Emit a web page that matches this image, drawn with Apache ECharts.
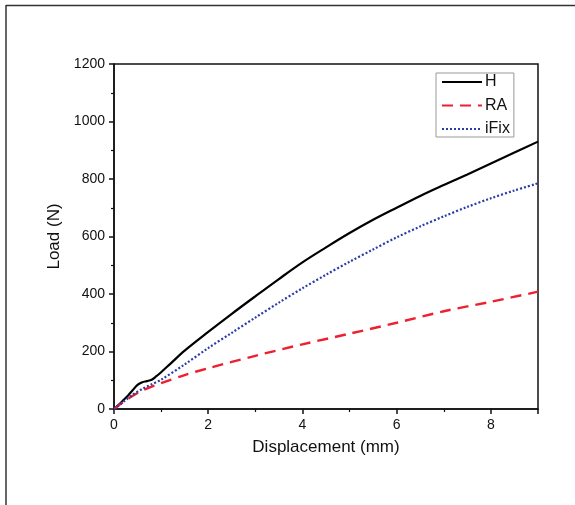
<!DOCTYPE html>
<html>
<head>
<meta charset="utf-8">
<script src="https://cdn.jsdelivr.net/npm/echarts@6/dist/echarts.min.js"></script>
<style>
html,body{margin:0;padding:0;background:#fff;}
#chart{width:575px;height:505px;}
</style>
</head>
<body>
<div id="chart"></div>
<script>
// Data (x: displacement mm, y: load N)
var seriesNames = ['H', 'RA', 'iFix'];
var dataH = [[0,0],[0.1,15],[0.2,31],[0.3,47],[0.4,66],[0.5,84],[0.6,93],[0.7,97],[0.8,102],[0.9,114],[1.0,128],[1.2,158],[1.5,203],[2,268],[2.5,331],[3,392],[3.5,452],[4,510],[4.5,562],[5,612],[5.5,658],[6,700],[6.5,741],[7,779],[7.5,816],[8,854],[8.5,892],[9,930]];
var dataRA = [[0,0],[0.2,25],[0.4,46],[0.6,64],[0.8,78],[1,90],[1.5,118],[2,142],[3,185],[4,225],[5,262],[6,300],[7,340],[8,373],[9,408]];
var dataIFix = [[0,0],[0.2,25],[0.4,50],[0.6,70],[0.8,86],[1,102],[1.5,155],[2,212],[2.5,265],[3,318],[3.5,370],[4,420],[4.5,467],[5,512],[5.5,555],[6,597],[6.5,635],[7,670],[7.5,703],[8,733],[8.5,760],[9,785]];
var xTitle = 'Displacement (mm)';
var yTitle = 'Load (N)';

var chart = echarts.init(document.getElementById('chart'), null, {renderer:'canvas'});
var font = 'Liberation Sans, Arial, sans-serif';
chart.setOption({
  animation: false,
  backgroundColor: '#fff',
  textStyle: {fontFamily: font},
  graphic: [
    {type:'line', shape:{x1:6,y1:5.5,x2:575,y2:5.5}, style:{stroke:'#333',lineWidth:1.5}},
    {type:'line', shape:{x1:6,y1:5,x2:6,y2:505}, style:{stroke:'#333',lineWidth:1.5}}
  ],
  grid: {left:114, right:37, top:64, bottom:96, show:true, borderColor:'#111', borderWidth:1.5, backgroundColor:'transparent'},
  legend: {
    data: seriesNames,
    orient: 'vertical',
    left: 436, top: 73,
    padding: [1,4,0,5],
    itemGap: 7.5,
    itemWidth: 40, itemHeight: 14,
    borderColor: '#999', borderWidth: 1,
    itemStyle: {opacity: 0},
    textStyle: {fontSize: 16, color:'#111', fontFamily: font, padding:[0,0,0,-2]}
  },
  xAxis: {
    type: 'value', min: 0, max: 9, interval: 2,
    name: xTitle, nameLocation: 'middle', nameGap: 30,
    nameTextStyle: {fontSize: 17, color:'#111', fontFamily: font},
    axisLine: {lineStyle: {color:'#111', width:1.5}},
    axisTick: {length: 5, lineStyle:{width:1.5, color:'#111'}},
    minorTick: {show: true, splitNumber: 2, length: 3, lineStyle:{width:1.2, color:'#111'}},
    splitLine: {show: false},
    axisLabel: {fontSize: 14, color:'#111', margin: 9, showMaxLabel: false, fontFamily: font,
      formatter: function(v){ return String(v); }}
  },
  yAxis: {
    type: 'value', min: 0, max: 1200, interval: 200,
    name: yTitle, nameLocation: 'middle', nameGap: 38,
    nameTextStyle: {fontSize: 17, color:'#111', fontFamily: font},
    axisLine: {show:true, lineStyle: {color:'#111', width:1.5}},
    axisTick: {show:true, length: 5, lineStyle:{width:1.5, color:'#111'}},
    minorTick: {show: true, splitNumber: 2, length: 3, lineStyle:{width:1.2, color:'#111'}},
    splitLine: {show: false},
    axisLabel: {fontSize: 14, color:'#111', margin: 9, fontFamily: font,
      formatter: function(v){ return String(v); }}
  },
  series: [
    {name:'H', type:'line', data: dataH, showSymbol:false, symbol:'none', smooth:0.35,
     lineStyle:{color:'#000', width:2.2}, itemStyle:{color:'#000'}},
    {name:'RA', type:'line', data: dataRA, showSymbol:false, symbol:'none', smooth:0.3,
     lineStyle:{color:'#ee2030', width:2.4, type:[11,7]}, itemStyle:{color:'#ee2030'}},
    {name:'iFix', type:'line', data: dataIFix, showSymbol:false, symbol:'none', smooth:0.3,
     lineStyle:{color:'#2a3caa', width:2.2, type:[2,2]}, itemStyle:{color:'#2a3caa'}}
  ]
});
</script>
</body>
</html>
